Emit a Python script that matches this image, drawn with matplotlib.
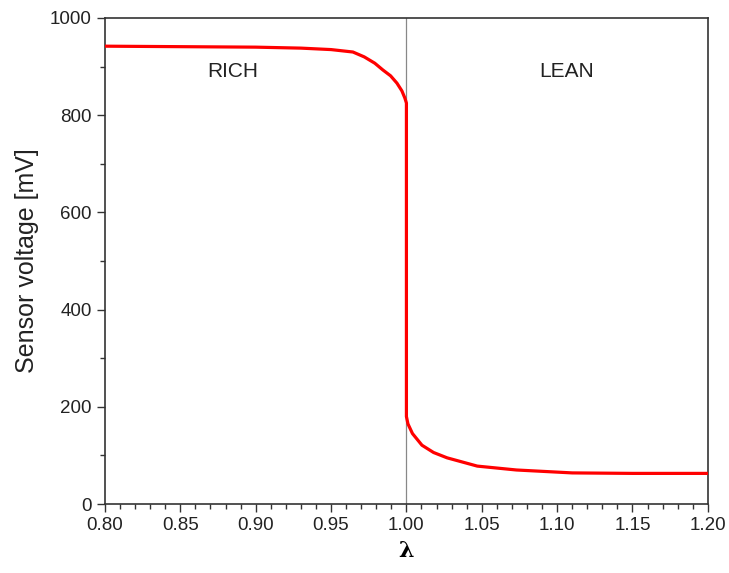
import matplotlib
matplotlib.use("Agg")
import matplotlib.pyplot as plt
from matplotlib.ticker import MultipleLocator

plt.rcParams['font.family'] = ['Liberation Sans', 'DejaVu Sans']

# lambda vs sensor voltage
lam = [0.80, 0.85, 0.90, 0.93, 0.95, 0.9645, 0.972, 0.979, 0.9844, 0.9895, 0.9937, 0.997, 0.999, 1.0,
       1.0, 1.001, 1.004, 1.0103, 1.018, 1.027, 1.047, 1.073, 1.11, 1.15, 1.20]
volt = [942, 941, 940, 938, 935, 930, 920, 907, 893, 881, 866, 850, 835, 825,
        180, 165, 145, 121, 106, 95, 78, 70, 64, 63, 63]

fig = plt.figure(figsize=(7.29, 5.73), dpi=100)
ax = fig.add_axes([0.144, 0.1204, 0.827, 0.8482])

ax.axvline(1.0, color='#888888', lw=0.9, zorder=1)
ax.plot(lam, volt, color='#ff0000', lw=2.3, zorder=3, solid_joinstyle='round')

ax.set_xlim(0.8, 1.2)
ax.set_ylim(0, 1000)
ax.xaxis.set_major_locator(MultipleLocator(0.05))
ax.xaxis.set_minor_locator(MultipleLocator(0.01))
ax.yaxis.set_major_locator(MultipleLocator(200))
ax.yaxis.set_minor_locator(MultipleLocator(100))
ax.xaxis.set_major_formatter(plt.FormatStrFormatter('%.2f'))
ax.tick_params(which='both', direction='out', colors='#333333', labelcolor='#222222', labelsize=13.5)
ax.tick_params(which='major', length=6, width=1)
ax.tick_params(which='minor', length=3.5, width=1)
for s in ax.spines.values():
    s.set_color('#333333')
    s.set_linewidth(1.2)

ax.set_ylabel("Sensor voltage [mV]", fontsize=18, color='#222222', labelpad=8)
ax.set_xlabel("λ", fontsize=16, fontweight='bold', family=['DejaVu Serif'], labelpad=4)

ax.text(0.885, 889, "RICH", fontsize=15, ha='center', va='center', color='#222222')
ax.text(1.1065, 889, "LEAN", fontsize=15, ha='center', va='center', color='#222222')

fig.savefig("out.png", dpi=100)
